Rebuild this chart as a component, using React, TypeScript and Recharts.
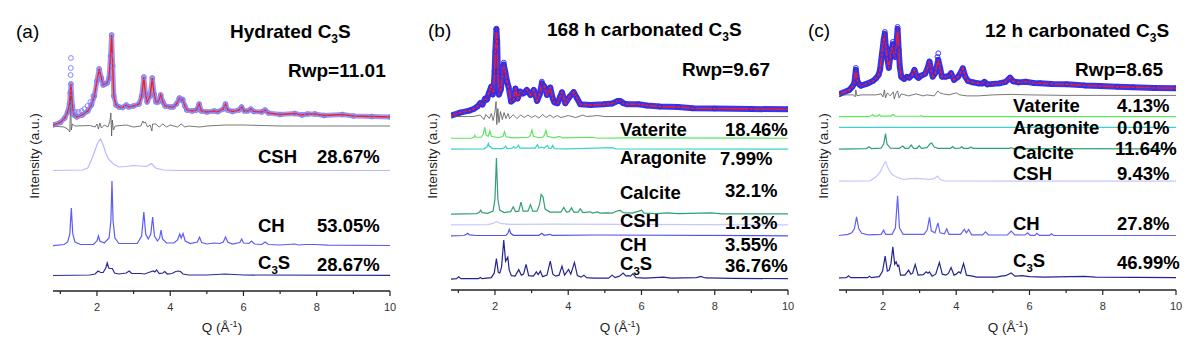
import React from "react";
import { ComposedChart, Line, XAxis, YAxis } from "recharts";

const FONT = '"Liberation Sans", Arial, Helvetica, sans-serif';

// ---------- shared axis ticks ----------
const Q_TICKS = [1, 2, 3, 4, 5, 6, 7, 8, 9, 10];
const A_Y_TICKS = [15, 30, 45, 60, 75, 90, 105, 120, 135, 150, 165, 180, 195, 210, 225, 240, 255];
const STEP = 271 / 25;
const BC_Y_TICKS = Array.from({ length: 25 }, (_, i) => (i + 1) * STEP);

// ---------- panel (a): Hydrated C3S  [Q, intensity] pairs ----------
const A_CALC = [0.8,1, 1.0,3.5, 1.12,8, 1.2,14, 1.25,22, 1.29,42, 1.33,20, 1.37,11, 1.45,9, 1.6,11, 1.75,15, 1.85,21, 1.93,30, 2.0,45, 2.06,57, 2.12,48, 2.17,41, 2.22,42, 2.28,43, 2.33,48, 2.37,70, 2.40,91, 2.43,60, 2.46,30, 2.52,21, 2.6,19, 2.7,18.5, 2.8,21, 2.86,19, 3.0,20, 3.15,22, 3.22,30, 3.28,49, 3.32,33, 3.37,24, 3.45,30, 3.51,48, 3.56,32, 3.61,24, 3.67,24, 3.74,31, 3.80,24, 3.86,20, 4.0,19, 4.08,19, 4.17,22, 4.25,28, 4.3,26, 4.34,26.5, 4.4,20, 4.45,16, 4.6,15, 4.72,16, 4.79,22, 4.85,15, 5.0,14, 5.2,15, 5.3,14.3, 5.45,17, 5.51,22, 5.57,16, 5.7,14.5, 5.88,16, 5.95,19, 6.02,15, 6.12,15, 6.2,17, 6.28,14.5, 6.5,14, 6.59,16, 6.68,13, 7.0,11.5, 7.4,12.5, 7.6,11, 7.75,12, 7.95,12, 8.2,10.5, 8.7,11.5, 9.0,10, 9.5,9.5, 10,9];
const A_OBS_EXTRA = [1.27,33, 1.28,51, 1.285,58, 1.29,68, 1.42,14, 1.5,14, 1.58,15, 1.66,17, 1.74,20, 1.82,24, 1.9,30];
const A_DIFF = [0.8,0, 1.1,-1, 1.2,-3, 1.26,-6, 1.28,30, 1.30,-4, 1.33,2, 1.4,0, 1.8,0.5, 1.95,-1, 2.0,2, 2.04,-3, 2.08,3, 2.12,-2, 2.2,1, 2.3,-1, 2.35,4, 2.38,13, 2.40,-10, 2.42,6, 2.45,-4, 2.5,0, 2.8,1, 3.0,-1, 3.2,0, 3.25,5, 3.28,3, 3.32,4, 3.38,-1, 3.45,1, 3.5,-5, 3.52,2, 3.6,2, 3.7,-1, 3.8,2, 3.9,-1, 4.0,1, 4.2,-1, 4.3,2, 4.4,-1, 4.5,0, 4.8,-1, 5.0,0, 5.5,1, 6.0,1, 6.5,0.5, 7.0,0, 8,0, 9,0, 10,0];
const A_CSH = [0.8,0.5, 1.6,1, 1.75,3, 1.86,12, 1.95,21, 2.02,28, 2.10,32, 2.17,26, 2.24,18, 2.31,12, 2.45,7, 2.6,4, 2.8,4.5, 3.0,5.5, 3.2,5, 3.35,4.5, 3.49,7.5, 3.6,3, 3.8,1, 4.2,0.5, 10,0.5];
const A_CH = [0.8,0.3, 1.1,1.5, 1.2,4, 1.26,12, 1.30,38, 1.34,12, 1.4,4, 1.55,1.5, 1.9,1.5, 2.0,5, 2.04,10, 2.08,5, 2.2,3, 2.33,8, 2.38,25, 2.41,65, 2.44,25, 2.49,8, 2.6,2.5, 3.1,2.5, 3.22,10, 3.28,34, 3.33,12, 3.4,7, 3.47,12, 3.52,29, 3.57,10, 3.65,5, 3.71,8, 3.75,16, 3.79,7, 3.9,3, 4.1,3, 4.2,6, 4.26,12, 4.30,8, 4.35,12.5, 4.41,5, 4.55,2.5, 4.74,4, 4.8,8.7, 4.86,3.5, 5.0,2, 5.2,3, 5.35,2.5, 5.45,4, 5.51,9, 5.57,4, 5.7,2, 5.9,3.5, 5.95,7, 6.0,3, 6.15,2.5, 6.22,5, 6.3,2, 6.5,1.5, 6.59,4, 6.68,1.5, 7.0,1, 7.4,2, 7.5,1, 7.7,1.5, 7.95,1.5, 8.3,0.8, 10,0.5];
const A_C3S = [0.8,0.5, 1.8,1, 1.95,2, 2.03,5, 2.1,3.5, 2.17,3.5, 2.24,8, 2.28,13, 2.32,8, 2.36,7.5, 2.42,7.5, 2.48,3, 2.6,2, 2.8,3, 2.88,5, 2.95,2.5, 3.2,2.5, 3.3,2, 3.45,4, 3.54,5, 3.58,4, 3.63,6, 3.7,2.5, 3.8,3, 3.85,4.5, 3.92,2, 4.05,2.5, 4.15,4.5, 4.22,5, 4.28,4.5, 4.35,2, 4.5,1, 5.0,1, 5.5,2, 6,1, 10,0.7];

// ---------- panel (b): 168 h carbonated C3S ----------
const B_CALC = [0.8,1, 1.05,4, 1.3,6, 1.42,7.6, 1.52,10, 1.6,13.5, 1.66,12, 1.73,18, 1.78,17, 1.83,23, 1.9,30, 1.94,22, 1.96,25, 1.99,45, 2.01,65, 2.04,87, 2.06,75, 2.08,45, 2.11,22, 2.16,27, 2.20,40, 2.24,52, 2.28,45, 2.33,35, 2.37,30, 2.44,15, 2.51,17, 2.56,28, 2.62,18, 2.69,25, 2.76,23, 2.81,24, 2.87,26.6, 2.97,21.6, 3.06,26.6, 3.15,15.6, 3.22,22, 3.28,33.3, 3.35,30, 3.42,21.6, 3.51,29, 3.58,18, 3.62,14.3, 3.71,13.3, 3.78,20, 3.83,24.3, 3.92,13.3, 4.04,20, 4.15,24.5, 4.24,18.3, 4.33,12.3, 4.6,11.6, 4.97,12.3, 5.2,13, 5.35,15.5, 5.42,15.6, 5.5,13.5, 5.6,12.3, 5.92,12.3, 6.15,11, 6.5,10, 7.0,9.5, 7.4,8.3, 8,8, 9,7.5, 10,7.3];
const B_OBS_EXTRA = [2.04,88, 2.24,54, 3.28,35];
const B_DIFF = [0.8,0, 1.4,0, 1.6,1.5, 1.7,-3, 1.75,2, 1.85,-2, 1.9,3, 1.95,-4, 2.0,5, 2.03,15, 2.05,-8, 2.08,8, 2.11,-6, 2.15,5, 2.2,-3, 2.25,4, 2.3,-2, 2.36,3, 2.4,-2, 2.5,2, 2.6,-2, 2.7,1.5, 2.8,-1, 2.9,1.5, 3.0,-1, 3.1,1, 3.2,-1.5, 3.3,2, 3.4,-1, 3.5,1.5, 3.6,-1, 3.7,1, 3.8,-1, 4.0,1, 4.2,-1, 4.4,1.5, 4.5,0, 4.8,1, 5.0,0, 6,0, 10,0];
const B_VAT = [0.8,0, 1.35,0, 1.42,1, 1.45,3, 1.48,1, 1.62,1, 1.68,4, 1.72,11, 1.76,3, 1.82,2, 1.86,7.5, 1.90,2, 2.1,0.5, 2.22,2, 2.26,6.5, 2.3,1.5, 2.5,0.3, 2.92,1, 2.97,3, 3.01,8.2, 3.05,2, 3.2,0.5, 3.3,1, 3.35,3, 3.39,8, 3.43,2, 3.6,0.3, 3.76,1.8, 3.85,0.3, 4.7,1, 4.8,0, 5.6,0.3, 10,0];
const B_ARAG = [0.8,0, 1.7,0.3, 1.78,2, 1.82,5.7, 1.85,2.5, 1.88,2.5, 1.92,0.5, 2.2,0.5, 2.26,1.5, 2.29,3, 2.33,0.5, 2.47,1, 2.51,2.5, 2.55,1, 2.6,1.5, 2.64,4, 2.68,1, 3.1,1, 3.16,4.5, 3.2,1, 3.28,2, 3.34,0.8, 3.43,3.7, 3.47,0.8, 3.54,1, 3.58,3.7, 3.62,0.5, 4.0,0.3, 5.2,1.5, 5.3,0.2, 10,0];
const B_CALCITE = [0.8,0, 1.5,0.5, 1.57,1.5, 1.61,4, 1.65,1.5, 1.8,0.8, 1.95,3, 2.0,15, 2.02,35, 2.04,56, 2.06,35, 2.08,15, 2.13,4, 2.25,1.5, 2.43,2.5, 2.5,7.3, 2.56,2.5, 2.65,3, 2.71,12, 2.77,3, 2.9,3, 2.97,9.5, 3.03,3, 3.15,3, 3.22,10, 3.26,19.7, 3.31,17.3, 3.37,5, 3.5,2, 3.8,2, 3.88,6.7, 3.95,2, 4.03,2.5, 4.09,6.3, 4.15,2, 4.27,2, 4.33,5.3, 4.4,1.5, 4.6,2.3, 4.66,1, 4.8,2.3, 4.86,1, 5.05,1.3, 5.2,1, 5.35,3.3, 5.42,3.7, 5.5,1.5, 5.75,1, 5.93,3, 6.0,4, 6.07,1, 6.4,0.5, 6.7,1.3, 7.0,0.5, 7.9,1.3, 8.2,0.3, 10,0.3];
const B_CSH = [0.8,0, 1.8,0.3, 1.95,1.5, 2.04,3.6, 2.15,1.5, 2.4,0.5, 3.5,0.8, 10,0];
const B_CH = [0.8,0, 1.15,0.3, 1.22,1.5, 1.26,2.5, 1.3,1, 1.5,0.3, 2.3,0.5, 2.36,3, 2.39,6.5, 2.43,2.5, 2.5,0.5, 3.2,0.5, 3.28,2.5, 3.34,0.5, 3.5,1.5, 3.56,0.5, 4.8,0.8, 10,0];
const B_C3S = [0.8,0, 0.95,0.5, 1.01,2.3, 1.07,0.5, 1.55,0.5, 1.6,1.7, 1.65,0.5, 1.9,1.5, 1.98,6, 2.04,20.5, 2.09,7, 2.13,6, 2.18,12, 2.24,39, 2.29,18, 2.35,22, 2.39,9, 2.45,3.5, 2.55,3, 2.65,9.5, 2.72,4, 2.78,5, 2.85,14.7, 2.92,3.5, 3.05,3, 3.13,7.3, 3.18,4.5, 3.24,8, 3.3,2.5, 3.42,4, 3.51,18, 3.58,5, 3.66,3, 3.75,4, 3.83,13, 3.9,4, 4.01,9.7, 4.07,5, 4.17,16.7, 4.25,3.5, 4.35,2, 4.43,4, 4.5,1.5, 4.7,1, 5.1,1, 5.2,4, 5.28,1.5, 5.4,3, 5.5,6, 5.58,3, 5.63,3.5, 5.7,3, 5.77,5.5, 5.85,1.5, 6.1,1, 6.6,2, 6.8,1, 7.5,1.5, 7.62,2.7, 7.75,1.2, 8.5,0.8, 10,0.5];

// ---------- panel (c): 12 h carbonated C3S ----------
const C_CALC = [0.8,0.6, 1.08,4.9, 1.17,8.5, 1.22,12, 1.26,25, 1.30,14, 1.35,10.5, 1.40,9.2, 1.55,11, 1.63,12.2, 1.73,14, 1.81,16.6, 1.88,20, 1.92,25, 1.97,40, 2.02,55, 2.05,61, 2.08,48, 2.12,36, 2.16,27, 2.20,38, 2.24,46, 2.27,50.6, 2.30,40, 2.33,38, 2.36,46.6, 2.40,66, 2.43,45, 2.46,28, 2.50,18, 2.58,15.9, 2.65,18, 2.72,17.2, 2.8,20, 2.86,25, 2.92,18.5, 2.97,17, 3.04,19.2, 3.15,21, 3.22,27, 3.27,33.2, 3.32,24, 3.36,18.2, 3.43,22, 3.51,35, 3.56,27, 3.61,18.2, 3.72,18.2, 3.8,19, 3.86,21.6, 3.94,15, 4.05,18, 4.12,22, 4.18,26.6, 4.25,18, 4.32,14, 4.45,12.6, 4.6,11.5, 4.72,11.5, 4.77,13, 4.85,10.5, 5.0,11, 5.18,11.5, 5.35,13, 5.47,17.2, 5.56,13.5, 5.7,12.5, 5.9,13.2, 6.1,12, 6.29,11.6, 6.6,11, 7.02,10.6, 7.5,9.5, 7.93,8.9, 8.4,8.2, 8.83,7.6, 9.4,7, 10,6.6];
const C_OBS_EXTRA = [1.26,27, 2.05,63, 2.27,53, 2.40,68, 3.49,38, 3.51,41.6];
const C_DIFF = [0.8,0, 1.2,0, 1.24,-2, 1.26,5, 1.29,-1, 1.4,0, 1.8,0, 1.95,1, 2.0,-2, 2.04,5, 2.07,-3, 2.12,2, 2.2,-1, 2.28,3, 2.31,-4, 2.36,2, 2.4,4, 2.44,-3, 2.5,1, 2.7,-1, 2.9,1, 3.1,-1, 3.2,0, 3.4,-1, 3.5,4, 3.55,2, 3.65,1, 3.8,0, 4.0,2, 4.1,0, 4.3,-1, 4.6,-1, 5.0,0, 5.5,0.5, 6,0, 7,-0.5, 10,-0.5];
const C_VAT = [0.8,0, 1.6,0, 1.68,0.8, 1.72,2, 1.76,0.5, 1.85,0.5, 1.9,2, 1.94,0.5, 2.22,0.5, 2.28,2.3, 2.33,0.3, 3.0,0.3, 3.04,0.8, 3.1,0, 10,0];
const C_ARAG = [0.8,0, 10,0];
const C_CALCITE = [0.8,0, 1.55,0.5, 1.62,2.3, 1.68,0.5, 1.95,1, 2.02,5, 2.07,15.5, 2.11,5, 2.2,1, 2.45,0.8, 2.54,3, 2.6,0.8, 2.7,0.8, 2.77,4, 2.84,0.8, 2.93,0.8, 2.99,3.3, 3.05,0.8, 3.2,1.5, 3.28,5, 3.33,6, 3.4,2, 3.5,0.8, 3.85,0.8, 3.9,2.5, 3.96,0.8, 4.1,1, 4.15,2.3, 4.2,0.8, 4.35,0.8, 4.4,2, 4.45,0.8, 5.45,0.8, 5.5,1.5, 5.55,0.5, 10,0.3];
const C_CSH = [0.8,0.5, 1.65,0.8, 1.81,4.8, 1.93,10, 1.99,14.8, 2.05,19, 2.08,19.8, 2.12,15, 2.17,11.5, 2.25,7, 2.36,4.8, 2.54,2.2, 2.7,2.8, 2.9,3.2, 3.1,2.8, 3.27,2.2, 3.4,3, 3.49,5.5, 3.56,2, 3.7,0.6, 10,0.5];
const C_CH = [0.8,0.3, 1.05,1.5, 1.15,3, 1.22,7, 1.28,19, 1.34,7, 1.42,2.5, 1.6,1, 1.95,1.5, 2.02,5.7, 2.07,1.5, 2.25,1.5, 2.34,8, 2.40,40, 2.45,8, 2.55,1.5, 3.12,1.5, 3.21,6, 3.27,18.4, 3.32,5, 3.42,3, 3.5,13, 3.56,3, 3.68,2, 3.74,7, 3.8,1.5, 4.12,1.5, 4.22,6.4, 4.28,3, 4.34,6.4, 4.42,1, 4.72,1, 4.8,4, 4.88,0.8, 5.4,1, 5.5,4.7, 5.6,1, 5.88,0.8, 5.95,3, 6.02,0.5, 6.15,0.5, 6.2,2.5, 6.27,0.5, 6.55,0.5, 6.6,2, 6.66,0.4, 10,0.3];
const C_C3S = [0.8,0.3, 1.0,0.5, 1.06,2.3, 1.12,0.5, 1.58,0.5, 1.63,2, 1.68,0.5, 1.9,1.5, 1.99,7, 2.06,22, 2.12,7, 2.17,8, 2.22,15, 2.27,31.3, 2.32,14, 2.36,16.3, 2.40,12, 2.43,13, 2.48,3, 2.6,3, 2.70,8, 2.76,4, 2.81,5, 2.88,13.7, 2.96,3, 3.1,3.5, 3.18,6.3, 3.23,5, 3.27,6.3, 3.34,2, 3.44,4, 3.54,15.7, 3.62,4, 3.72,3, 3.79,5, 3.86,10.7, 3.94,3, 4.0,4, 4.07,6.3, 4.12,5, 4.2,14.7, 4.28,3, 4.45,2, 4.55,1, 5.1,1, 5.22,2, 5.35,2.5, 5.5,5.3, 5.6,2, 5.8,2.5, 6.0,1.5, 6.4,1, 7.5,1.8, 7.8,1, 10,0.5];

// ---------- labels ----------
const TITLES = ["Hydrated C", "168 h carbonated C", "12 h carbonated C"];
const RWP = ["Rwp=11.01", "Rwp=9.67", "Rwp=8.65"];
const A_NAMES = ["CSH", "CH", "C3S"];
const A_PCT = ["28.67%", "53.05%", "28.67%"];
const B_NAMES = ["Vaterite", "Aragonite", "Calcite", "CSH", "CH", "C3S"];
const B_PCT = ["18.46%", "7.99%", "32.1%", "1.13%", "3.55%", "36.76%"];
const C_NAMES = ["Vaterite", "Aragonite", "Calcite", "CSH", "CH", "C3S"];
const C_PCT = ["4.13%", "0.01%", "11.64%", "9.43%", "27.8%", "46.99%"];

type Row = { q: number; y: number };
const rows = (a: number[], base: number): Row[] => {
  const r: Row[] = [];
  for (let i = 0; i + 1 < a.length; i += 2) r.push({ q: a[i], y: a[i + 1] + base });
  return r;
};

const XTick = (props: any) => {
  const { x, y, payload } = props;
  const v = Number(payload?.value);
  const major = Math.round(v) % 2 === 0;
  return (
    <g>
      <line x1={x} x2={x} y1={y} y2={y + (major ? 5 : 3)} stroke="#222" strokeWidth={1.2} />
      {major ? (
        <text x={x} y={y + 19.5} textAnchor="middle" fontSize={11} fill="#333" fontFamily={FONT}>
          {v}
        </text>
      ) : null}
    </g>
  );
};

const makeYTick = (isMajor: (v: number) => boolean) => (props: any) => {
  const { x, y, payload } = props;
  const len = isMajor(Number(payload?.value)) ? 5 : 3;
  return <line x1={x - len} x2={x} y1={y} y2={y} stroke="#222" strokeWidth={1.2} />;
};

const aMajor = (v: number) => Math.round(v / 15) % 2 === 1;
const bcMajor = (v: number) => Math.round(v / STEP) % 2 === 1;

type Series = { data: number[]; base: number; color: string; width?: number };

type PanelProps = {
  left: number;
  margin: { top: number; right: number; bottom: number; left: number };
  yTicks: number[];
  isMajor: (v: number) => boolean;
  mainBase: number;
  calc: number[];
  obsExtra: number[];
  diff: number[];
  obsBand: string;
  obsDot: string;
  bandWidth: number;
  phases: Series[];
};

const Panel = (p: PanelProps) => {
  const calcRows = rows(p.calc, p.mainBase);
  return (
    <div style={{ position: "absolute", left: p.left, top: 0, width: 400, height: 354 }}>
      <ComposedChart width={400} height={354} margin={p.margin}>
        <XAxis
          type="number"
          dataKey="q"
          domain={[0.8, 10]}
          ticks={Q_TICKS}
          interval={0}
          tickSize={0}
          tickMargin={0}
          tickLine={false}
          tick={<XTick />}
          height={40}
          allowDataOverflow
          axisLine={{ stroke: "#222", strokeWidth: 1.3 }}
        />
        <YAxis
          type="number"
          domain={[0, 271]}
          ticks={p.yTicks}
          interval={0}
          tickSize={0}
          tickMargin={0}
          tickLine={false}
          tick={makeYTick(p.isMajor)}
          width={0}
          allowDataOverflow
          axisLine={{ stroke: "#222", strokeWidth: 1.3 }}
        />
        {p.phases.map((s, i) => (
          <Line
            key={"ph" + i}
            data={rows(s.data, s.base)}
            dataKey="y"
            type="linear"
            stroke={s.color}
            strokeWidth={s.width ?? 1.2}
            dot={false}
            isAnimationActive={false}
          />
        ))}
        <Line
          data={calcRows}
          dataKey="y"
          type="linear"
          stroke={p.obsBand}
          strokeWidth={p.bandWidth}
          strokeLinejoin="round"
          dot={{ r: 2.4, stroke: p.obsDot, strokeWidth: 0.9, fill: "none" }}
          isAnimationActive={false}
        />
        <Line
          data={rows(p.obsExtra, p.mainBase)}
          dataKey="y"
          type="linear"
          stroke="none"
          dot={{ r: 2.4, stroke: p.obsDot, strokeWidth: 0.9, fill: "none" }}
          isAnimationActive={false}
        />
        <Line
          data={calcRows}
          dataKey="y"
          type="linear"
          stroke="#ff1a1a"
          strokeWidth={1.4}
          dot={false}
          isAnimationActive={false}
        />
        <Line
          data={rows(p.diff, p.mainBase)}
          dataKey="y"
          type="linear"
          stroke="#555"
          strokeWidth={0.8}
          dot={false}
          isAnimationActive={false}
        />
      </ComposedChart>
    </div>
  );
};

const Sub = ({ size, text }: { size: number; text: string }) => {
  if (text === "C3S") {
    return (
      <>
        <tspan>C</tspan>
        <tspan fontSize={size * 0.62} dy={size * 0.28}>3</tspan>
        <tspan dy={-size * 0.28}>S</tspan>
      </>
    );
  }
  return <tspan>{text}</tspan>;
};

const Label = ({ x, y, text, size = 18.5 }: { x: number; y: number; text: string; size?: number }) => (
  <text x={x} y={y} fontSize={size} fontWeight={700} fontFamily={FONT} fill="#000">
    <Sub size={size} text={text} />
  </text>
);

const Title = ({ x, y, text }: { x: number; y: number; text: string }) => (
  <text x={x} y={y} fontSize={19} fontWeight={700} fontFamily={FONT} fill="#000">
    <tspan>{text}</tspan>
    <tspan fontSize={12} dy={5}>3</tspan>
    <tspan dy={-5}>S</tspan>
  </text>
);

const QLabel = ({ cx }: { cx: number }) => (
  <text x={cx} y={332} fontSize={13.5} fontFamily={FONT} fill="#222" textAnchor="middle">
    <tspan>Q (Å</tspan>
    <tspan fontSize={9} dy={-5}>-1</tspan>
    <tspan dy={5}>)</tspan>
  </text>
);

const YLabel = ({ x }: { x: number }) => (
  <text
    x={x}
    y={156}
    fontSize={13.5}
    fontFamily={FONT}
    fill="#222"
    textAnchor="middle"
    transform={`rotate(-90 ${x} 156)`}
  >
    Intensity (a.u.)
  </text>
);

export default function App() {
  const A_BASE = { main: 165, csh: 120, ch: 45, c3s: 15 };
  const k = (i: number) => (i + 1) * STEP;
  return (
    <div style={{ position: "absolute", left: 0, top: 0, width: 1200, height: 354, background: "#fff", overflow: "hidden" }}>
      <Panel
        left={0}
        margin={{ top: 20, right: 10, bottom: 23, left: 53 }}
        yTicks={A_Y_TICKS}
        isMajor={aMajor}
        mainBase={A_BASE.main}
        calc={A_CALC}
        obsExtra={A_OBS_EXTRA}
        diff={A_DIFF}
        obsBand="rgba(120,120,245,0.75)"
        obsDot="#7a7af0"
        bandWidth={5}
        phases={[
          { data: A_CSH, base: A_BASE.csh, color: "#b9b9ff" },
          { data: A_CH, base: A_BASE.ch, color: "#5c5cf5" },
          { data: A_C3S, base: A_BASE.c3s, color: "#2b2b96" },
        ]}
      />
      <Panel
        left={400}
        margin={{ top: 19, right: 12, bottom: 24, left: 51 }}
        yTicks={BC_Y_TICKS}
        isMajor={bcMajor}
        mainBase={k(15)}
        calc={B_CALC}
        obsExtra={B_OBS_EXTRA}
        diff={B_DIFF}
        obsBand="#3636f0"
        obsDot="#2a2ae6"
        bandWidth={6}
        phases={[
          { data: B_VAT, base: k(13), color: "#5ee65e" },
          { data: B_ARAG, base: k(12), color: "#38d4cc" },
          { data: B_CALCITE, base: k(6), color: "#33a073" },
          { data: B_CSH, base: k(5), color: "#c6c6ff" },
          { data: B_CH, base: k(4), color: "#5252e8" },
          { data: B_C3S, base: k(0), color: "#25258f" },
        ]}
      />
      <Panel
        left={800}
        margin={{ top: 19, right: 24, bottom: 24, left: 39 }}
        yTicks={BC_Y_TICKS}
        isMajor={bcMajor}
        mainBase={k(17)}
        calc={C_CALC}
        obsExtra={C_OBS_EXTRA}
        diff={C_DIFF}
        obsBand="#3636f0"
        obsDot="#2a2ae6"
        bandWidth={6}
        phases={[
          { data: C_VAT, base: k(15), color: "#5ee65e" },
          { data: C_ARAG, base: k(14), color: "#38d4cc" },
          { data: C_CALCITE, base: k(12), color: "#33a073" },
          { data: C_CSH, base: k(9), color: "#c6c6ff" },
          { data: C_CH, base: k(4), color: "#6262f5" },
          { data: C_C3S, base: k(0) + 1, color: "#25258f" },
        ]}
      />
      <svg width={1200} height={354} style={{ position: "absolute", left: 0, top: 0, pointerEvents: "none" }}>
        <text x={16} y={38} fontSize={19} fontFamily={FONT} fill="#000">(a)</text>
        <text x={428} y={37} fontSize={19} fontFamily={FONT} fill="#000">(b)</text>
        <text x={808} y={37} fontSize={19} fontFamily={FONT} fill="#000">(c)</text>

        <Title x={230} y={38} text={TITLES[0]} />
        <Title x={547} y={36} text={TITLES[1]} />
        <Title x={985} y={37} text={TITLES[2]} />

        <Label x={288} y={77} text={RWP[0]} size={19} />
        <Label x={682} y={76} text={RWP[1]} size={19} />
        <Label x={1075} y={76} text={RWP[2]} size={19} />

        <Label x={258} y={163} text={A_NAMES[0]} />
        <Label x={317} y={163} text={A_PCT[0]} />
        <Label x={258} y={232} text={A_NAMES[1]} />
        <Label x={317} y={231.5} text={A_PCT[1]} />
        <Label x={258} y={269} text={A_NAMES[2]} />
        <Label x={317} y={271} text={A_PCT[2]} />

        <Label x={620} y={136} text={B_NAMES[0]} />
        <Label x={725} y={136} text={B_PCT[0]} />
        <Label x={620} y={164} text={B_NAMES[1]} />
        <Label x={720} y={165} text={B_PCT[1]} />
        <Label x={620} y={199} text={B_NAMES[2]} />
        <Label x={725} y={197} text={B_PCT[2]} />
        <Label x={620} y={227} text={B_NAMES[3]} />
        <Label x={725} y={228.5} text={B_PCT[3]} />
        <Label x={620} y={251} text={B_NAMES[4]} />
        <Label x={725} y={251} text={B_PCT[4]} />
        <Label x={620} y={270} text={B_NAMES[5]} />
        <Label x={725} y={272} text={B_PCT[5]} />

        <Label x={1013} y={111.5} text={C_NAMES[0]} />
        <Label x={1117} y={111.5} text={C_PCT[0]} />
        <Label x={1013} y={133.5} text={C_NAMES[1]} />
        <Label x={1117} y={133.5} text={C_PCT[1]} />
        <Label x={1013} y={158.5} text={C_NAMES[2]} />
        <Label x={1115} y={155} text={C_PCT[2]} />
        <Label x={1013} y={180} text={C_NAMES[3]} />
        <Label x={1117} y={180} text={C_PCT[3]} />
        <Label x={1013} y={230} text={C_NAMES[4]} />
        <Label x={1117} y={230} text={C_PCT[4]} />
        <Label x={1013} y={267} text={C_NAMES[5]} />
        <Label x={1117} y={268.5} text={C_PCT[5]} />

        <QLabel cx={222} />
        <QLabel cx={620} />
        <QLabel cx={1008} />

        <YLabel x={39} />
        <YLabel x={437} />
        <YLabel x={828} />
      </svg>
    </div>
  );
}
